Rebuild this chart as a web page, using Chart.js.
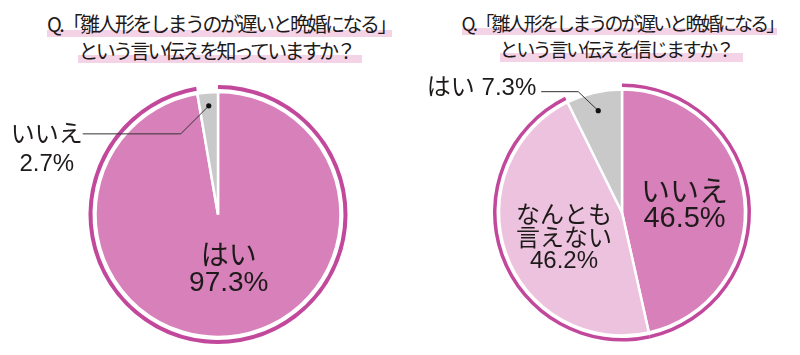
<!DOCTYPE html>
<html lang="ja">
<head>
<meta charset="utf-8">
<script src="https://cdn.jsdelivr.net/npm/chart.js@4.4.1/dist/chart.umd.min.js"></script>
<style>
  html, body { margin: 0; padding: 0; background: #fff; }
  #wrap { position: relative; width: 800px; height: 355px; overflow: hidden; }
  canvas { position: absolute; top: 0; }
  #c1 { left: 0; }
  #c2 { left: 400px; }
  .bar { position: absolute; background: #f4d3e6; }
  .title { position: absolute; width: 400px; text-align: center; white-space: nowrap;
           font-family: "Noto Sans CJK JP", sans-serif; font-weight: 400; color: #1e1a1a; }
  .title span { display: inline-block; }
</style>
</head>
<body>
<div id="wrap">
  <div class="bar" style="left:47px; top:30px; width:345px; height:7px;"></div>
  <div class="bar" style="left:78px; top:55px; width:284px; height:8px;"></div>
  <div class="bar" style="left:462px; top:28px; width:315px; height:7px;"></div>
  <div class="bar" style="left:500px; top:53px; width:243px; height:9px;"></div>
  <div class="title" id="t1a" data-w="348" style="left:21px; top:13px; font-size:20px; line-height:22px;"><span>Q.「雛人形をしまうのが遅いと晩婚になる」</span></div>
  <div class="title" id="t1b" data-w="275" style="left:16px; top:40px; font-size:20px; line-height:22px;"><span>という言い伝えを知っていますか？</span></div>
  <div class="title" id="t2a" data-w="321" style="left:422px; top:12px; font-size:19px; line-height:22px;"><span>Q.「雛人形をしまうのが遅いと晩婚になる」</span></div>
  <div class="title" id="t2b" data-w="233" style="left:416px; top:38px; font-size:19px; line-height:22px;"><span>という言い伝えを信じますか？</span></div>
  <canvas id="c1" width="400" height="355"></canvas>
  <canvas id="c2" width="400" height="355"></canvas>
</div>
<script>
// ---- data ----
const categories1 = ['はい', 'いいえ'];
const values1 = [97.3, 2.7];
const categories2 = ['いいえ', 'なんとも\n言えない', 'はい'];
const values2 = [46.5, 46.2, 7.3];

// ---- styles ----
const PINK = '#d780ba', LIGHT = '#ecc2de', GRAY = '#c9c9c9', RING = '#c2489c';
const TEXT = '#1e1a1a';
const FONT = '"Liberation Sans", "Noto Sans CJK JP", sans-serif';

// fit title widths
document.querySelectorAll('.title').forEach(el => {
  const span = el.querySelector('span');
  const n = [...span.textContent].length;
  const w = span.getBoundingClientRect().width;
  span.style.letterSpacing = ((+el.dataset.w - w) / n) + 'px';
});

const labelPlugin = {
  id: 'sliceLabels',
  afterDatasetsDraw(chart, args, opts) {
    const ctx = chart.ctx;
    const meta = chart.getDatasetMeta(opts.datasetIndex);
    const cats = chart.data.labels;
    const vals = chart.data.datasets[opts.datasetIndex].data;
    ctx.save();
    ctx.fillStyle = TEXT;
    ctx.textBaseline = 'middle';
    opts.items.forEach((it, i) => {
      if (!it) return;
      const arc = meta.data[i];
      const pct = vals[i].toFixed(1) + '%';
      ctx.font = it.size + 'px ' + FONT;
      if (it.type === 'inside') {
        const p = arc.tooltipPosition();
        const lines = cats[i].split('\n').concat([pct]);
        const cx = p.x + it.dx, cy = p.y + it.dy;
        const y0 = cy - (lines.length - 1) * it.lh / 2;
        ctx.textAlign = 'center';
        lines.forEach((t, k) => ctx.fillText(t, cx, y0 + k * it.lh));
      } else {
        const mid = (arc.startAngle + arc.endAngle) / 2;
        const r = arc.outerRadius * it.frac;
        const dx = arc.x + Math.cos(mid) * r, dy = arc.y + Math.sin(mid) * r;
        const ex = dx + it.elbow[0], ey = dy + it.elbow[1];
        const lx = ex - it.len;
        ctx.strokeStyle = '#333';
        ctx.lineWidth = 1;
        ctx.beginPath();
        ctx.moveTo(dx, dy); ctx.lineTo(ex, ey); ctx.lineTo(lx, ey);
        ctx.stroke();
        ctx.beginPath();
        ctx.arc(dx, dy, 2.6, 0, Math.PI * 2);
        ctx.fillStyle = '#111';
        ctx.fill();
        ctx.fillStyle = TEXT;
        if (it.oneLine) {
          ctx.textAlign = 'right';
          ctx.fillText(cats[i] + ' ' + pct, lx - it.tx, ey + it.ty);
        } else {
          ctx.textAlign = 'center';
          const lines = cats[i].split('\n').concat([pct]);
          lines.forEach((t, k) => ctx.fillText(t, lx - it.tx, ey + it.ty + k * it.lh));
        }
      }
    });
    ctx.restore();
  }
};

function makePie(id, cats, vals, colors, ringColors, pad, radius, ringW, gapW, labelItems) {
  const pieW = radius - ringW - gapW;
  return new Chart(document.getElementById(id), {
    type: 'pie',
    data: {
      labels: cats,
      datasets: [
        { data: vals, backgroundColor: ringColors, borderWidth: 0, weight: ringW },
        { data: vals, backgroundColor: vals.map(() => 'rgba(0,0,0,0)'), borderWidth: 0, weight: gapW },
        { data: vals, backgroundColor: colors, borderColor: '#ffffff', borderWidth: 2.5, weight: pieW }
      ]
    },
    options: {
      responsive: false,
      animation: false,
      events: [],
      radius: radius,
      layout: { padding: pad },
      plugins: {
        legend: { display: false },
        tooltip: { enabled: false },
        title: { display: false },
        sliceLabels: { datasetIndex: 2, items: labelItems }
      }
    },
    plugins: [labelPlugin]
  });
}

makePie('c1', categories1, values1, [PINK, GRAY], [RING, 'rgba(0,0,0,0)'],
  { left: 88, right: 52, top: 84.5, bottom: 10.5 }, 129.5, 4, 3,
  [
    { type: 'inside', size: 28, lh: 26, dx: 5.6, dy: -4.8 },
    { type: 'callout', size: 24, lh: 29, frac: 0.89, elbow: [-28, 28], len: 98, tx: 36, ty: 2 }
  ]);

makePie('c2', categories2, values2, [PINK, LIGHT, GRAY], [RING, RING, 'rgba(0,0,0,0)'],
  { left: 92, right: 48, top: 82.5, bottom: 12.5 }, 129, 3.5, 2.5,
  [
    { type: 'inside', size: 29, lh: 24.5, dx: 1.4, dy: 0.6 },
    { type: 'inside', size: 24, lh: 22.5, dx: 0, dy: 6.4 },
    { type: 'callout', size: 24, frac: 0.85, elbow: [-20, -19], len: 37, tx: 5, ty: -3, oneLine: true }
  ]);
</script>
</body>
</html>
